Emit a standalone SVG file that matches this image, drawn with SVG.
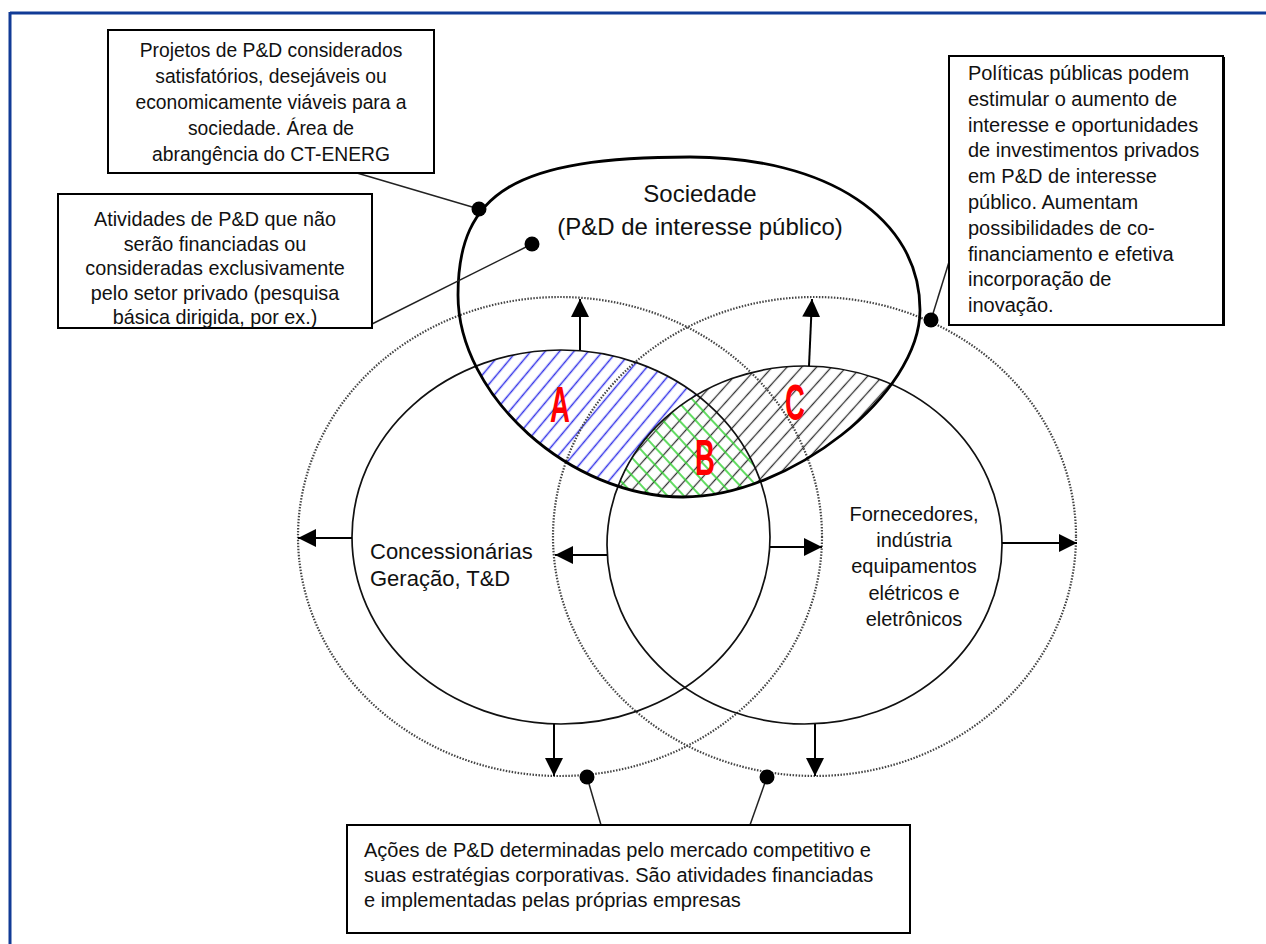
<svg xmlns="http://www.w3.org/2000/svg" width="1266" height="944" viewBox="0 0 1266 944">
<style>
.t{font-family:"Liberation Sans",Arial,sans-serif;fill:#111}
.box{fill:#fff;stroke:#000;stroke-width:2}
.dot{fill:#000}
.con{stroke:#222;stroke-width:1.5;fill:none}
.arr{stroke:#000;stroke-width:2;fill:none;marker-end:url(#ah)}
.dc{fill:none;stroke:#444;stroke-width:2.2;stroke-dasharray:1.5 1.5}
.sc{fill:none;stroke:#111;stroke-width:1.7}
.lbl{font-family:"Liberation Sans",Arial,sans-serif;font-weight:bold;fill:#f00;font-size:50px}
</style>
<defs>
<marker id="ah" markerWidth="18" markerHeight="18" refX="18" refY="9" orient="auto" markerUnits="userSpaceOnUse"><path d="M0,0 L18,9 L0,18 z" fill="#000"/></marker>
<pattern id="hBlue" width="11" height="11" patternUnits="userSpaceOnUse" patternTransform="rotate(40)"><line x1="5.5" y1="-1" x2="5.5" y2="12" stroke="#3535e8" stroke-width="1.5"/></pattern>
<pattern id="hBlack" width="11" height="11" patternUnits="userSpaceOnUse" patternTransform="rotate(42)"><line x1="5.5" y1="-1" x2="5.5" y2="12" stroke="#333" stroke-width="1.3"/></pattern>
<pattern id="hGreen" width="12" height="12" patternUnits="userSpaceOnUse" patternTransform="rotate(-43)"><line x1="6" y1="-1" x2="6" y2="13" stroke="#2ed12e" stroke-width="1.5"/></pattern>
<clipPath id="cBig"><path d="M458,295 C458,191.5 516,157 690,157 C828,157 920,218.2 920,310 C920,394 789.7,497 683,497 C570.5,497 458,396 458,295 Z"/></clipPath>
<clipPath id="cL"><ellipse cx="561" cy="537" rx="209" ry="187"/></clipPath>
<clipPath id="cR"><ellipse cx="804.5" cy="545" rx="197.5" ry="179"/></clipPath>
</defs>
<rect width="1266" height="944" fill="#fff"/>
<g id="frame" fill="none" stroke="#113b96" stroke-width="3">
<line x1="10" y1="13" x2="1266" y2="13"/>
<line x1="10" y1="12" x2="10" y2="944"/>
</g>
<g id="hatching">
<g clip-path="url(#cBig)">
<g clip-path="url(#cL)"><rect x="300" y="150" width="700" height="400" fill="url(#hBlue)"/></g>
<g clip-path="url(#cR)"><rect x="300" y="150" width="700" height="400" fill="#fff"/><rect x="300" y="150" width="700" height="400" fill="url(#hBlack)"/>
<g clip-path="url(#cL)"><rect x="300" y="150" width="700" height="400" fill="url(#hGreen)"/></g></g>
</g>
</g>
<g id="circles">
<ellipse id="outerLeft" class="dc" cx="560" cy="536.5" rx="262" ry="239.5"/>
<ellipse id="outerRight" class="dc" cx="814.5" cy="536.5" rx="261.5" ry="239.5"/>
<ellipse id="concessionarias" class="sc" cx="561" cy="537" rx="209" ry="187"/>
<ellipse id="fornecedores" class="sc" cx="804.5" cy="545" rx="197.5" ry="179"/>
<path id="sociedade" d="M458,295 C458,191.5 516,157 690,157 C828,157 920,218.2 920,310 C920,394 789.7,497 683,497 C570.5,497 458,396 458,295 Z" fill="none" stroke="#000" stroke-width="2.8"/>
</g>
<g id="labels">
<text class="lbl" transform="translate(560,422) scale(0.55,1)" text-anchor="middle">A</text>
<text class="lbl" transform="translate(705,475) scale(0.55,1)" text-anchor="middle">B</text>
<text class="lbl" transform="translate(795,420) scale(0.55,1)" text-anchor="middle">C</text>
</g>
<g id="connectors">
<line class="arr" x1="580" y1="350" x2="580" y2="299"/>
<line class="arr" x1="809" y1="366" x2="812" y2="299"/>
<line class="arr" x1="352" y1="538" x2="298" y2="538"/>
<line class="arr" x1="607" y1="555" x2="555" y2="555"/>
<line class="arr" x1="770" y1="547" x2="822" y2="547"/>
<line class="arr" x1="1002" y1="543" x2="1077" y2="543"/>
<line class="arr" x1="554" y1="724" x2="554" y2="776"/>
<line class="arr" x1="815" y1="724" x2="815" y2="776"/>
<line class="con" x1="357" y1="173" x2="479" y2="209"/>
<line class="con" x1="372" y1="324" x2="532" y2="244"/>
<line class="con" x1="949" y1="262" x2="931" y2="320"/>
<line class="con" x1="587" y1="777" x2="601" y2="825"/>
<line class="con" x1="767" y1="777" x2="750" y2="825"/>
<circle class="dot" cx="479" cy="209" r="7.5"/>
<circle class="dot" cx="532" cy="244" r="7.5"/>
<circle class="dot" cx="931" cy="320" r="7.5"/>
<circle class="dot" cx="587" cy="777" r="7.5"/>
<circle class="dot" cx="767" cy="777" r="7.5"/>
</g>
<g id="node-sociedade-text">
<text class="t" x="700" y="202" font-size="24" text-anchor="middle">Sociedade</text>
<text class="t" x="700" y="235" font-size="24" text-anchor="middle">(P&amp;D de interesse público)</text>
</g>
<g id="node-concessionarias-text">
<text class="t" x="370" y="559" font-size="22">Concessionárias</text>
<text class="t" x="370" y="586" font-size="22">Geração, T&amp;D</text>
</g>
<g id="node-fornecedores-text" font-size="20">
<text class="t" x="914" y="521" text-anchor="middle">Fornecedores,</text>
<text class="t" x="914" y="547" text-anchor="middle">indústria</text>
<text class="t" x="914" y="573" text-anchor="middle">equipamentos</text>
<text class="t" x="914" y="600" text-anchor="middle">elétricos e</text>
<text class="t" x="914" y="626" text-anchor="middle">eletrônicos</text>
</g>
<g id="box-projetos">
<rect class="box" x="108" y="30" width="326" height="143"/>
<g font-size="19.3" text-anchor="middle">
<text class="t" x="271" y="57">Projetos de P&amp;D considerados</text>
<text class="t" x="271" y="83">satisfatórios, desejáveis ou</text>
<text class="t" x="271" y="109">economicamente viáveis para a</text>
<text class="t" x="271" y="135">sociedade. Área de</text>
<text class="t" x="271" y="161">abrangência do CT-ENERG</text>
</g>
</g>
<g id="box-atividades">
<rect class="box" x="58" y="194" width="314" height="134"/>
<g font-size="19.8" text-anchor="middle">
<text class="t" x="215" y="226">Atividades de P&amp;D que não</text>
<text class="t" x="215" y="250.5">serão financiadas ou</text>
<text class="t" x="215" y="275">consideradas exclusivamente</text>
<text class="t" x="215" y="299.5">pelo setor privado (pesquisa</text>
<text class="t" x="215" y="324">básica dirigida, por ex.)</text>
</g>
</g>
<g id="box-politicas">
<rect class="box" x="949" y="56" width="274" height="269"/>
<line x1="1224" y1="57" x2="1224" y2="326" stroke="#000" stroke-width="2"/>
<g font-size="20">
<text class="t" x="968" y="80">Políticas públicas podem</text>
<text class="t" x="968" y="105.8">estimular o aumento de</text>
<text class="t" x="968" y="131.6">interesse e oportunidades</text>
<text class="t" x="968" y="157.4">de investimentos privados</text>
<text class="t" x="968" y="183.2">em P&amp;D de interesse</text>
<text class="t" x="968" y="209">público. Aumentam</text>
<text class="t" x="968" y="234.8">possibilidades de co-</text>
<text class="t" x="968" y="260.6">financiamento e efetiva</text>
<text class="t" x="968" y="286.4">incorporação de</text>
<text class="t" x="968" y="312.2">inovação.</text>
</g>
</g>
<g id="box-acoes">
<rect class="box" x="347" y="825" width="563" height="108"/>
<g font-size="20">
<text class="t" x="364" y="857">Ações de P&amp;D determinadas pelo mercado competitivo e</text>
<text class="t" x="364" y="882">suas estratégias corporativas. São atividades financiadas</text>
<text class="t" x="364" y="907">e implementadas pelas próprias empresas</text>
</g>
</g>
</svg>
